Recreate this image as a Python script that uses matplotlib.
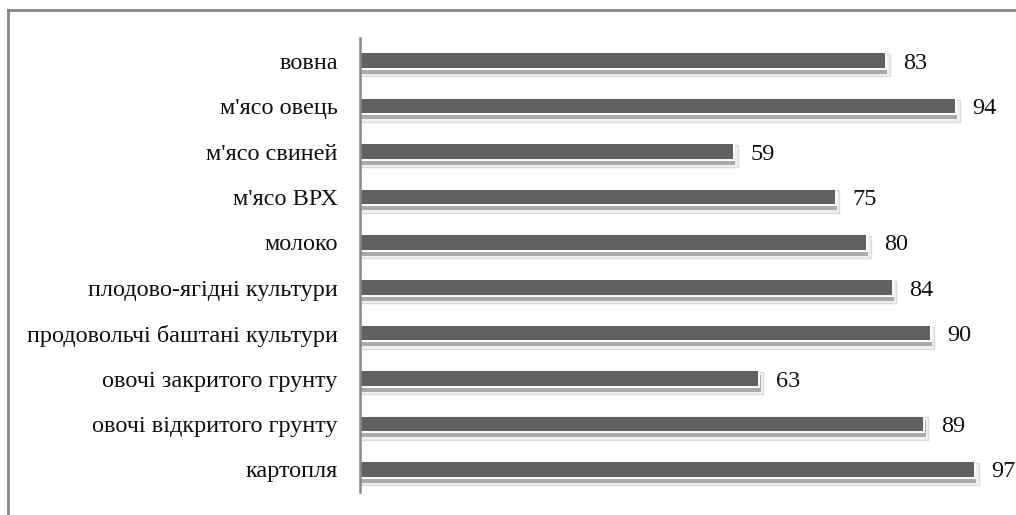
import matplotlib.pyplot as plt
from matplotlib.lines import Line2D
import numpy as np

categories = ["вовна", "м'ясо овець", "м'ясо свиней", "м'ясо ВРХ", "молоко",
              "плодово-ягідні культури", "продовольчі баштані культури",
              "овочі закритого грунту", "овочі відкритого грунту", "картопля"]
values = [83, 94, 59, 75, 80, 84, 90, 63, 89, 97]

plt.rcParams['font.family'] = ['Liberation Serif', 'DejaVu Serif']

fig = plt.figure(figsize=(10.16, 5.15), dpi=100)
ax = fig.add_axes([360 / 1016, 1 - 492 / 515, 634 / 1016, 454 / 515])

y = np.arange(len(categories))
h = 0.37

# soft shadow / outline behind each bar
ax.barh(y + 0.1, np.array(values) + 0.6, height=h + 0.12, color='#f0f0f0',
        edgecolor='#dadada', linewidth=1.0, zorder=1)
ax.barh(y + 0.11, np.array(values) + 0.2, height=h, color='#aaaaaa',
        linewidth=0, zorder=2)
ax.barh(y, values, height=h, color='#606060', edgecolor='white',
        linewidth=1.4, zorder=3)

for yi, v in zip(y, values):
    ax.text(v + 2.6, yi, str(v), va='center_baseline', ha='left',
            fontsize=17.5, color='#111111')

ax.set_yticks(y)
ax.set_yticklabels(categories, fontsize=17.5, color='#111111')
for lbl in ax.get_yticklabels():
    lbl.set_verticalalignment('center_baseline')
ax.tick_params(axis='y', length=0, pad=16)
ax.set_xticks([])
ax.set_xlim(0, 100)
ax.set_ylim(len(categories) - 0.5, -0.5)

for s in ['top', 'right', 'bottom']:
    ax.spines[s].set_visible(False)
ax.spines['left'].set_color('#888888')
ax.spines['left'].set_linewidth(1.8)
ax.spines['left'].set_zorder(4)

# outer frame of the chart area
fig.add_artist(Line2D([8 / 1016, 8 / 1016], [0, 1 - 10 / 515],
                      transform=fig.transFigure, color='#888888', lw=2))
fig.add_artist(Line2D([8 / 1016, 1], [1 - 10 / 515, 1 - 10 / 515],
                      transform=fig.transFigure, color='#888888', lw=2))

fig.savefig('out.png', dpi=100)
